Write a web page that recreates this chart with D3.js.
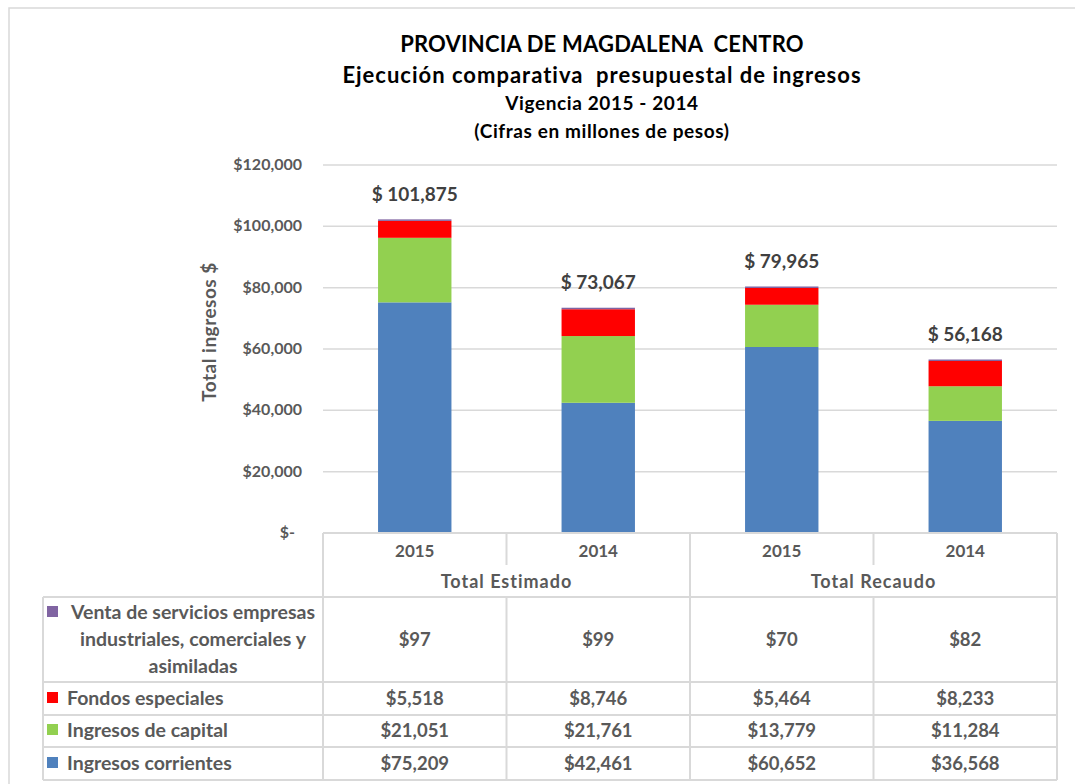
<!DOCTYPE html>
<html>
<head>
<meta charset="utf-8">
<script src="https://cdn.jsdelivr.net/npm/d3@7"></script>
<style>
  body { margin: 0; background: #fff; }
  text { font-family: Lato, "Open Sans", sans-serif; font-weight: bold; }
</style>
</head>
<body>
<div id="chart"></div>
<script>
// data
var categories = ["2015", "2014", "2015", "2014"];
var groups = ["Total Estimado", "Total Recaudo"];
var ingresosCorrientes = [75209, 42461, 60652, 36568];
var ingresosCapital = [21051, 21761, 13779, 11284];
var fondosEspeciales = [5518, 8746, 5464, 8233];
var ventaServicios = [97, 99, 70, 82];
var totales = [101875, 73067, 79965, 56168];
var yTicks = [0, 20000, 40000, 60000, 80000, 100000, 120000];

var width = 1075, height = 784;

var series = [
  {name: "Ingresos corrientes", values: ingresosCorrientes, color: "#4F81BD"},
  {name: "Ingresos de capital", values: ingresosCapital, color: "#92D050"},
  {name: "Fondos especiales", values: fondosEspeciales, color: "#FF0000"},
  {name: "Venta de servicios empresas industriales, comerciales y asimiladas", values: ventaServicios, color: "#8064A2"}
];

var rows = categories.map(function(c, i) {
  var r = {idx: i};
  series.forEach(function(s, k) { r["s" + k] = s.values[i]; });
  return r;
});

var svg = d3.select('#chart').append('svg')
            .attr('width', width)
            .attr('height', height);

// outer chart border
svg.append('rect')
   .attr('x', 9).attr('y', 8)
   .attr('width', width + 20).attr('height', height + 20)
   .attr('fill', 'none').attr('stroke', '#d9d9d9').attr('stroke-width', 1.5);

var x0 = 323, x1 = 1057;
var y0 = 533;

var x = d3.scaleBand()
          .domain(d3.range(categories.length))
          .range([x0, x1])
          .paddingInner(0).paddingOuter(0);

var y = d3.scaleLinear()
          .domain([0, 120000])
          .range([y0, 165]);

// titles
var titles = [
  {t: "PROVINCIA DE MAGDALENA  CENTRO", y: 52, s: 22, ls: 0.2},
  {t: "Ejecución comparativa  presupuestal de ingresos", y: 83, s: 22, ls: 1},
  {t: "Vigencia 2015 - 2014", y: 110, s: 19, ls: 0.6},
  {t: "(Cifras en millones de pesos)", y: 138, s: 19, ls: 0.6}
];
svg.selectAll('.title').data(titles).enter()
   .append('text').attr('class', 'title')
   .attr('x', 602).attr('y', function(d) { return d.y; })
   .attr('text-anchor', 'middle')
   .attr('font-size', function(d) { return d.s; })
   .attr('letter-spacing', function(d) { return d.ls; })
   .attr('fill', '#000')
   .style('white-space', 'pre')
   .text(function(d) { return d.t; });

// gridlines
svg.append('g').selectAll('line').data(yTicks.filter(function(d) { return d > 0; })).enter()
   .append('line')
   .attr('x1', x0).attr('x2', x1)
   .attr('y1', function(d) { return y(d); }).attr('y2', function(d) { return y(d); })
   .attr('stroke', '#d9d9d9').attr('stroke-width', 1.5);

// y axis labels
var fmt = d3.format(",");
svg.append('g').selectAll('text').data(yTicks).enter()
   .append('text')
   .attr('x', function(d) { return d === 0 ? 295 : 302; })
   .attr('y', function(d) { return y(d) + 5; })
   .attr('text-anchor', 'end')
   .attr('font-size', 16)
   .attr('fill', '#595959')
   .text(function(d) { return d === 0 ? "$-" : "$" + fmt(d); });

svg.append('text')
   .attr('transform', 'translate(216,332) rotate(-90)')
   .attr('text-anchor', 'middle')
   .attr('font-size', 19)
   .attr('letter-spacing', 0.5)
   .attr('fill', '#595959')
   .text("Total ingresos $");

// stacked bars
var stack = d3.stack().keys(series.map(function(s, k) { return "s" + k; }));
var stacked = stack(rows);
var barW = x.bandwidth() * 0.4;

svg.append('g').selectAll('g').data(stacked).enter()
   .append('g')
   .attr('fill', function(d, k) { return series[k].color; })
   .selectAll('rect').data(function(d) { return d; }).enter()
   .append('rect')
   .attr('x', function(d) { return x(d.data.idx) + (x.bandwidth() - barW) / 2; })
   .attr('width', barW)
   .attr('y', function(d) { return y(d[0]) - Math.max(y(d[0]) - y(d[1]), 1.5); })
   .attr('height', function(d) { return Math.max(y(d[0]) - y(d[1]), 1.5); });

// totals
svg.append('g').selectAll('text').data(totales).enter()
   .append('text')
   .attr('x', function(d, i) { return x(i) + x.bandwidth() / 2; })
   .attr('y', function(d) { return y(d) - 20; })
   .attr('text-anchor', 'middle')
   .attr('font-size', 19)
   .attr('fill', '#404040')
   .text(function(d) { return "$ " + fmt(d); });

// data table
var lineColor = '#d9d9d9';
var tbl = svg.append('g').attr('stroke', lineColor).attr('stroke-width', 2);
var legL = 43;
var rowY = [597, 682, 715, 747, 780];

// horizontal lines
tbl.append('line').attr('x1', x0).attr('x2', x1).attr('y1', y0).attr('y2', y0);
rowY.forEach(function(ry) {
  tbl.append('line').attr('x1', legL).attr('x2', x1).attr('y1', ry).attr('y2', ry);
});
// vertical lines
tbl.append('line').attr('x1', legL).attr('x2', legL).attr('y1', 597).attr('y2', 780);
tbl.append('line').attr('x1', x0).attr('x2', x0).attr('y1', y0).attr('y2', 780);
tbl.append('line').attr('x1', x1).attr('x2', x1).attr('y1', y0).attr('y2', 780);
d3.range(1, categories.length).forEach(function(i) {
  var xv = x(i);
  if (i % 2 === 1) {
    tbl.append('line').attr('x1', xv).attr('x2', xv).attr('y1', y0).attr('y2', 565);
    tbl.append('line').attr('x1', xv).attr('x2', xv).attr('y1', 597).attr('y2', 780);
  } else {
    tbl.append('line').attr('x1', xv).attr('x2', xv).attr('y1', y0).attr('y2', 780);
  }
});

// category + group labels
svg.append('g').selectAll('text').data(categories).enter()
   .append('text')
   .attr('x', function(d, i) { return x(i) + x.bandwidth() / 2; })
   .attr('y', 557)
   .attr('text-anchor', 'middle')
   .attr('font-size', 17)
   .attr('fill', '#595959')
   .text(function(d) { return d; });

svg.append('g').selectAll('text').data(groups).enter()
   .append('text')
   .attr('x', function(d, i) { return x(i * 2) + x.bandwidth(); })
   .attr('y', 588)
   .attr('text-anchor', 'middle')
   .attr('font-size', 18)
   .attr('letter-spacing', 1)
   .attr('fill', '#595959')
   .text(function(d) { return d; });

// table rows, top to bottom: venta, fondos, capital, corrientes
var tableRows = [
  {s: series[3], yc: 640, lines: ["Venta de servicios empresas", "industriales, comerciales y", "asimiladas"]},
  {s: series[2], yc: 699, lines: ["Fondos especiales"]},
  {s: series[1], yc: 731, lines: ["Ingresos de capital"]},
  {s: series[0], yc: 764, lines: ["Ingresos corrientes"]}
];

tableRows.forEach(function(r) {
  if (r.lines.length > 1) {
    r.lines.forEach(function(l, j) {
      svg.append('text')
         .attr('x', 193).attr('y', r.yc + (j - 1) * 27 + 6)
         .attr('text-anchor', 'middle')
         .attr('font-size', 19.5).attr('fill', '#595959')
         .text(l);
    });
    svg.append('rect').attr('x', 47).attr('y', r.yc - 27 - 7)
       .attr('width', 11).attr('height', 11).attr('fill', r.s.color);
  } else {
    svg.append('text')
       .attr('x', 67).attr('y', r.yc + 6)
       .attr('font-size', 19.5).attr('fill', '#595959')
       .text(r.lines[0]);
    svg.append('rect').attr('x', 47).attr('y', r.yc - 7)
       .attr('width', 11).attr('height', 11).attr('fill', r.s.color);
  }
  r.s.values.forEach(function(v, i) {
    svg.append('text')
       .attr('x', x(i) + x.bandwidth() / 2).attr('y', r.yc + 6)
       .attr('text-anchor', 'middle')
       .attr('font-size', 18.5).attr('fill', '#595959')
       .text("$" + fmt(v));
  });
});
</script>
</body>
</html>
